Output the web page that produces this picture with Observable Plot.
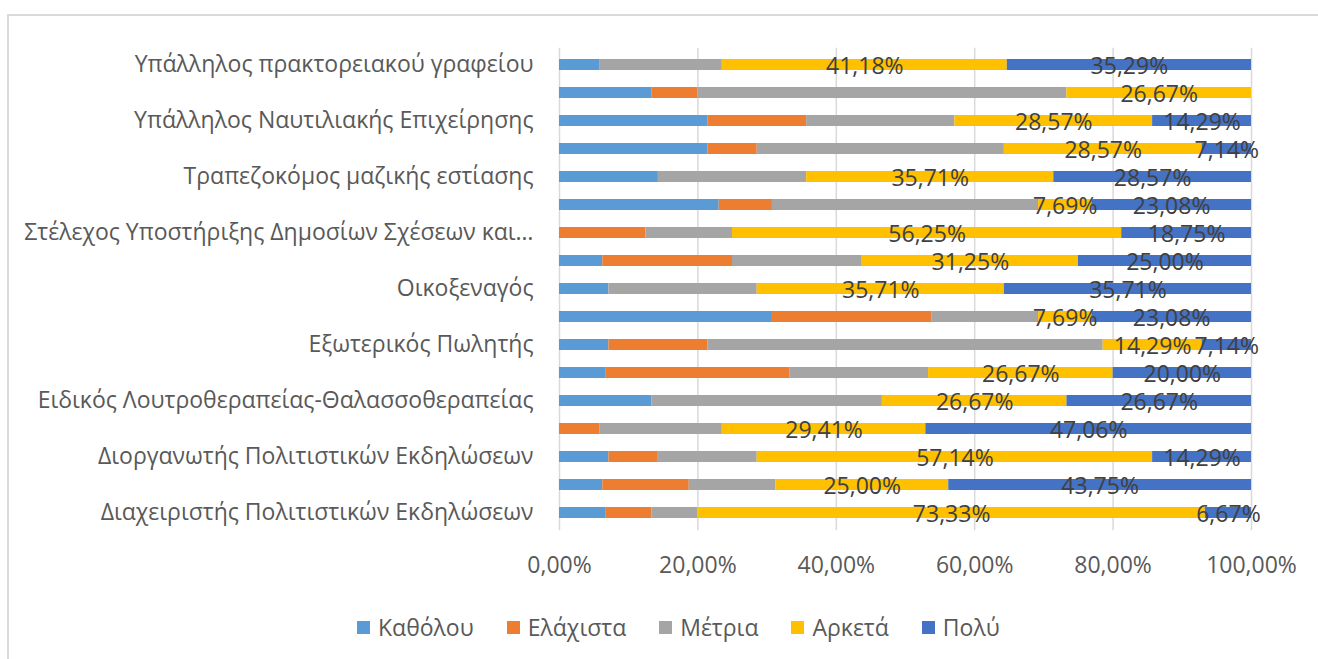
<!DOCTYPE html>
<html>
<head>
<meta charset="utf-8">
<script src="https://cdn.jsdelivr.net/npm/d3@7"></script>
<script src="https://cdn.jsdelivr.net/npm/@observablehq/plot@0.6"></script>
<style>
  html, body { margin: 0; padding: 0; background: #fff; overflow: hidden; width: 1318px; height: 659px; }
  #frame { position: absolute; left: 7px; top: 14px; width: 1400px; height: 700px; border: 2px solid #d9d9d9; box-sizing: border-box; }
  #chart { position: absolute; left: 0; top: 0; }
  #legend { position: absolute; left: 357px; top: 611px; display: flex; align-items: center; font-family: "Open Sans", sans-serif; font-size: 23px; color: #595959; }
  #legend .item { display: flex; align-items: center; margin-right: 33px; }
  #legend .sw { width: 13px; height: 13px; margin-right: 8px; }
</style>
</head>
<body>
<div id="frame"></div>
<div id="chart"></div>
<div id="legend"></div>
<script>
// Categories, top to bottom (blank = label skipped in the original axis)
const categories = [
  "Υπάλληλος πρακτορειακού γραφείου",
  "",
  "Υπάλληλος Ναυτιλιακής Επιχείρησης",
  "",
  "Τραπεζοκόμος μαζικής εστίασης",
  "",
  "Στέλεχος Υποστήριξης Δημοσίων Σχέσεων και…",
  "",
  "Οικοξεναγός",
  "",
  "Εξωτερικός Πωλητής",
  "",
  "Ειδικός Λουτροθεραπείας-Θαλασσοθεραπείας",
  "",
  "Διοργανωτής Πολιτιστικών Εκδηλώσεων",
  "",
  "Διαχειριστής Πολιτιστικών Εκδηλώσεων"
];
const series = ["Καθόλου", "Ελάχιστα", "Μέτρια", "Αρκετά", "Πολύ"];
const colors = ["#5B9BD5", "#ED7D31", "#A5A5A5", "#FFC000", "#4472C4"];
const labelledSeries = ["Αρκετά", "Πολύ"];

// Percent values per series, same order as categories
const katholou = [5.88, 13.33, 21.43, 21.43, 14.29, 23.08, 0, 6.25, 7.14, 30.77, 7.14, 6.67, 13.33, 0, 7.14, 6.25, 6.67];
const elaxista = [0, 6.67, 14.29, 7.14, 0, 7.69, 12.50, 18.75, 0, 23.08, 14.29, 26.67, 0, 5.88, 7.14, 12.50, 6.67];
const metria   = [17.65, 53.33, 21.43, 35.71, 21.43, 38.46, 12.50, 18.75, 21.43, 15.38, 57.14, 20.00, 33.33, 17.65, 14.29, 12.50, 6.67];
const arketa   = [41.18, 26.67, 28.57, 28.57, 35.71, 7.69, 56.25, 31.25, 35.71, 7.69, 14.29, 26.67, 26.67, 29.41, 57.14, 25.00, 73.33];
const poly     = [35.29, 0, 14.29, 7.14, 28.57, 23.08, 18.75, 25.00, 35.71, 23.08, 7.14, 20.00, 26.67, 47.06, 14.29, 43.75, 6.67];

const xTicks = [0, 0.2, 0.4, 0.6, 0.8, 1];

const seriesValues = [katholou, elaxista, metria, arketa, poly];
const data = [];
categories.forEach((c, i) => {
  series.forEach((s, j) => {
    data.push({row: i, series: s, value: seriesValues[j][i]});
  });
});

const pct = v => v.toFixed(2).replace(".", ",") + "%";

const W = 1318, H = 600;
const plotTop = 47.8, plotBottom = 530.2, plotLeft = 559, plotRight = 1251;
const FS = 23;

const chart = Plot.plot({
  width: W,
  height: H,
  marginLeft: plotLeft,
  marginRight: W - plotRight,
  marginTop: plotTop,
  marginBottom: H - plotBottom,
  style: {fontFamily: "'Open Sans', sans-serif", fontSize: FS + "px", color: "#595959", background: "transparent"},
  x: {domain: [0, 1], axis: null},
  y: {domain: d3.range(categories.length), paddingInner: 0.59, paddingOuter: 0.295, axis: null},
  color: {domain: series, range: colors},
  marks: [
    Plot.ruleX(xTicks, {stroke: "#d9d9d9", strokeWidth: 1.5}),
    Plot.barX(data, Plot.stackX({offset: "normalize", x: "value", y: "row", z: "series", fill: "series"})),
    Plot.textX(data, Plot.stackX({
      offset: "normalize", x: "value", y: "row", z: "series",
      text: d => (labelledSeries.includes(d.series) && d.value > 0) ? pct(d.value) : "",
      fill: "#404040", fontSize: FS, dy: 2
    })),
    Plot.axisX({ticks: xTicks, tickSize: 0, tickPadding: 26, tickFormat: v => pct(v * 100), label: null, fontSize: FS}),
    Plot.axisY({tickSize: 0, tickPadding: 26, tickFormat: i => categories[i], label: null, fontSize: FS})
  ]
});
document.getElementById("chart").appendChild(chart);

const legend = document.getElementById("legend");
series.forEach((s, j) => {
  const item = document.createElement("div");
  item.className = "item";
  const sw = document.createElement("div");
  sw.className = "sw";
  sw.style.background = colors[j];
  const t = document.createElement("span");
  t.textContent = s;
  item.appendChild(sw);
  item.appendChild(t);
  legend.appendChild(item);
});
</script>
</body>
</html>
